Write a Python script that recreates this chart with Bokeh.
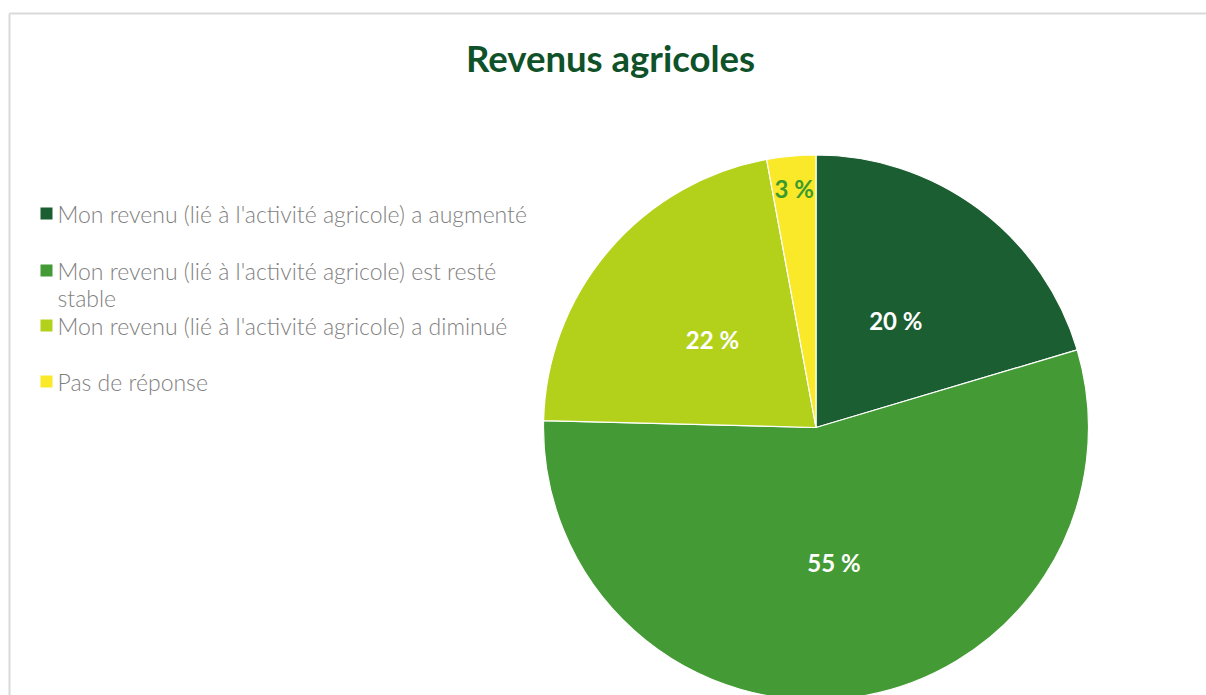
import math
from bokeh.plotting import figure
from bokeh.models import Range1d
from bokeh.core.properties import value
from bokeh.embed import file_html
from bokeh.resources import INLINE

# ---- data ----
categories = [
    "Mon revenu (lié à l'activité agricole) a augmenté",
    "Mon revenu (lié à l'activité agricole) est resté stable",
    "Mon revenu (lié à l'activité agricole) a diminué",
    "Pas de réponse",
]
legend_lines = [
    ["Mon revenu (lié à l'activité agricole) a augmenté"],
    ["Mon revenu (lié à l'activité agricole) est resté", "stable"],
    ["Mon revenu (lié à l'activité agricole) a diminué"],
    ["Pas de réponse"],
]
shares = [20.4, 55.0, 21.7, 2.9]
colors = ["#1b5e31", "#449a35", "#b3d11a", "#f9e928"]
label_colors = ["#ffffff", "#ffffff", "#ffffff", "#3c9a2e"]
title_text = "Revenus agricoles"

W, H = 1206, 695
SCREEN_H = 695


def Y(sy):
    return SCREEN_H - sy


p = figure(width=W, height=H, output_backend="svg", toolbar_location=None,
           x_range=Range1d(0, W), y_range=Range1d(SCREEN_H - H, SCREEN_H),
           min_border=0, background_fill_color="white", border_fill_color="white")
p.axis.visible = False
p.grid.visible = False
p.outline_line_color = None

# chart border (top / left visible)
p.line([9, W + 5], [Y(13), Y(13)], line_color="#d9d9d9", line_width=2)
p.line([9, 9], [Y(13), Y(SCREEN_H + 20)], line_color="#d9d9d9", line_width=2)

# title
p.text(x=[610], y=[Y(57)], text=[title_text], text_align="center", text_baseline="middle",
       text_font=value("Lato"), text_font_style="bold", text_font_size="36.5px",
       text_color="#0f5128")

# pie
cx, cy, r = 815.5, Y(427), 272.5
total = sum(shares)
starts, ends, mids = [], [], []
cum = 0.0
for v in shares:
    a0 = math.pi / 2 - 2 * math.pi * cum / total
    cum += v
    a1 = math.pi / 2 - 2 * math.pi * cum / total
    starts.append(a1)
    ends.append(a0)
    mids.append((a0 + a1) / 2)

p.wedge(x=[cx] * 4, y=[cy] * 4, radius=r, start_angle=starts, end_angle=ends,
        fill_color=colors, line_color="white", line_width=1.2)

# data labels
fracs = [0.49, 0.5, 0.5, 0.88]
lx = [cx + f * r * math.cos(m) for f, m in zip(fracs, mids)]
ly = [cy + f * r * math.sin(m) for f, m in zip(fracs, mids)]
labels = [f"{int(v + 0.5)} %" for v in shares]
p.text(x=lx, y=ly, text=labels, text_align="center", text_baseline="middle",
       text_font=value("Lato"), text_font_style="bold", text_font_size="24px",
       text_color=label_colors)

# legend
item_y = [213, 270, 325, 381]
p.scatter(x=[46] * 4, y=[Y(v) for v in item_y], marker="square", size=12,
          fill_color=colors, line_color=None)
tx, ty, tt = [], [], []
for lines, sy in zip(legend_lines, item_y):
    for i, ln in enumerate(lines):
        tx.append(57)
        ty.append(Y(sy + 27 * i))
        tt.append(ln)
p.text(x=tx, y=ty, text=tt, text_align="left", text_baseline="middle",
       text_font=value("Lato Light, Lato"), text_font_size="23px", text_color="#7f7f7f")

open("out.html", "w").write(file_html(p, INLINE))
